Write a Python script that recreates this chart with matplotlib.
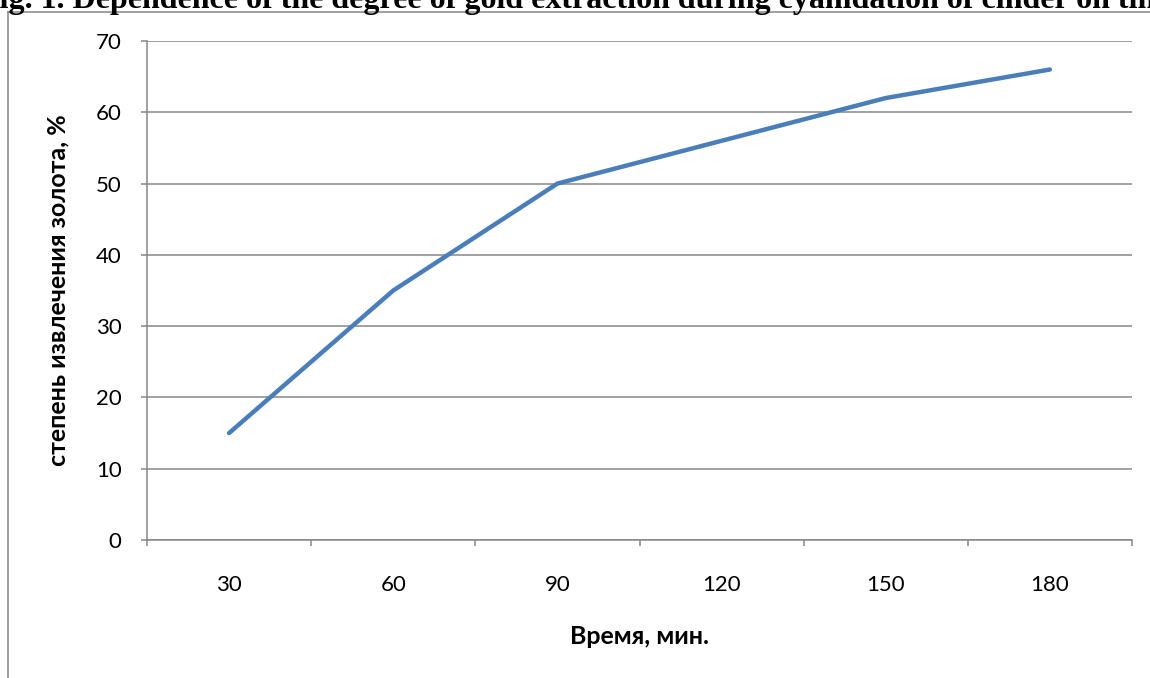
import matplotlib.pyplot as plt
from matplotlib.lines import Line2D

minutes = ['30', '60', '90', '120', '150', '180']
extraction = [15, 35, 50, 56, 62, 66]
y_ticks = [0, 10, 20, 30, 40, 50, 60, 70]

title = 'Fig. 1. Dependence of the degree of gold extraction during cyanidation of cinder on time'
grey = '#868686'

plt.rcParams['font.family'] = ['Lato', 'DejaVu Sans']

W, H = 1150, 678
fig = plt.figure(figsize=(W / 100, H / 100), dpi=100)
ax = fig.add_axes([147 / W, 1 - 540 / H, (1132 - 147) / W, (540 - 41) / H])

xs = list(range(len(minutes)))
ax.plot(xs, extraction, color='#4A7EBB', lw=3.2, solid_capstyle='round')

ax.set_xlim(-0.5, len(minutes) - 0.5)
ax.set_ylim(0, 70)
ax.set_yticks(y_ticks)
ax.set_xticks([i - 0.5 for i in range(len(minutes) + 1)])
ax.set_xticklabels([])
ax.set_xticks(xs, minor=True)
ax.set_xticklabels(minutes, minor=True)
ax.tick_params(axis='x', which='major', length=4.3, width=1.1, color=grey, direction='out')
ax.tick_params(axis='x', which='minor', length=0, pad=25, labelsize=16)
ax.tick_params(axis='y', length=4.3, width=1.1, color=grey, labelsize=16, pad=14)

ax.grid(axis='y', color=grey, lw=1.1)
ax.set_axisbelow(True)
for s in ('top', 'right'):
    ax.spines[s].set_visible(False)
for s in ('left', 'bottom'):
    ax.spines[s].set_color(grey)
    ax.spines[s].set_linewidth(1.1)

ax.set_xlabel('Время, мин.', fontsize=18, fontweight='bold')
ax.xaxis.set_label_coords(0.5, (540 - 636) / (540 - 41))
ax.xaxis.label.set_va('center')
ax.set_ylabel('степень извлечения золота, %', fontsize=18, fontweight='bold')
ax.yaxis.set_label_coords((58 - 147) / (1132 - 147), 0.5)
ax.yaxis.label.set_va('center')

# chart frame (only left and top edges are in view)
fig.add_artist(Line2D([8 / W, 8 / W], [0, 1 - 12 / H], transform=fig.transFigure, color=grey, lw=1.1))
fig.add_artist(Line2D([8 / W, 1], [1 - 12 / H, 1 - 12 / H], transform=fig.transFigure, color=grey, lw=1.1))

fig.text(-20 / W, 1 - 8 / H, title, family='Liberation Serif', fontweight='bold',
         fontsize=23, va='baseline', ha='left')

fig.savefig('out.png', dpi=100)
